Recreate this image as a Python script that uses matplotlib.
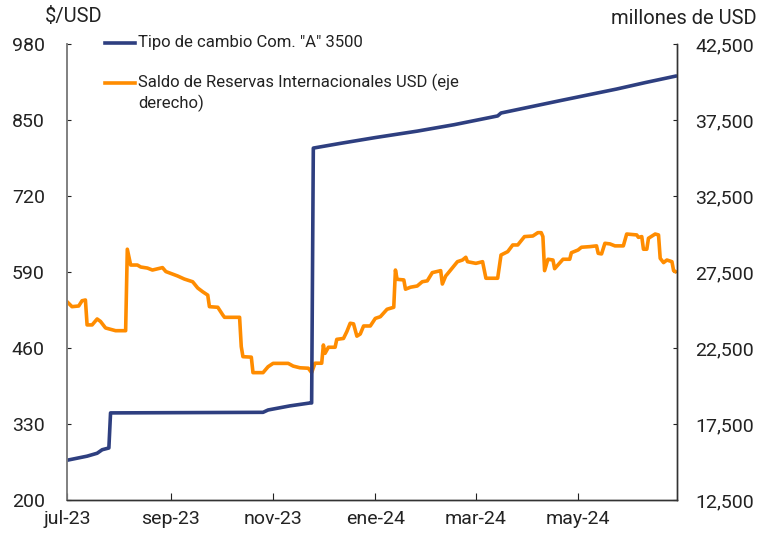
import pandas as pd
import matplotlib.pyplot as plt
from matplotlib.lines import Line2D

plt.rcParams['font.family'] = ['Roboto', 'DejaVu Sans']

# Tipo de cambio Com. "A" 3500 ($/USD, eje izquierdo)
fx_dates = ['2023-07-01', '2023-07-13', '2023-07-19', '2023-07-22', '2023-07-26',
            '2023-07-27', '2023-10-26', '2023-10-29', '2023-11-11', '2023-11-23',
            '2023-11-24', '2023-11-25', '2023-12-11', '2024-01-01', '2024-01-26',
            '2024-02-17', '2024-03-14', '2024-03-16', '2024-04-20', '2024-05-24',
            '2024-06-10', '2024-06-28']
fx_values = [268, 275, 280, 286, 289,
             349, 350, 354, 361, 366,
             366, 802, 810, 820, 831,
             842, 857, 862, 883, 903,
             914, 925]

# Saldo de Reservas Internacionales (millones de USD, eje derecho)
res_dates = ['2023-07-01', '2023-07-04', '2023-07-08', '2023-07-10', '2023-07-12',
             '2023-07-13', '2023-07-16', '2023-07-19', '2023-07-21', '2023-07-24',
             '2023-07-30', '2023-08-05', '2023-08-06', '2023-08-08', '2023-08-12',
             '2023-08-14', '2023-08-18', '2023-08-21', '2023-08-27', '2023-08-29',
             '2023-09-05', '2023-09-09', '2023-09-14', '2023-09-17', '2023-09-20',
             '2023-09-23', '2023-09-24', '2023-09-29', '2023-10-02', '2023-10-03',
             '2023-10-12', '2023-10-13', '2023-10-14', '2023-10-19', '2023-10-20',
             '2023-10-26', '2023-10-29', '2023-11-01', '2023-11-10', '2023-11-13',
             '2023-11-17', '2023-11-22', '2023-11-24', '2023-11-26', '2023-11-30',
             '2023-12-01', '2023-12-02', '2023-12-04', '2023-12-08', '2023-12-09',
             '2023-12-13', '2023-12-15', '2023-12-17', '2023-12-19', '2023-12-21',
             '2023-12-23', '2023-12-25', '2023-12-29', '2024-01-01', '2024-01-04',
             '2024-01-08', '2024-01-12', '2024-01-13', '2024-01-14', '2024-01-18',
             '2024-01-19', '2024-01-22', '2024-01-26', '2024-01-29', '2024-02-01',
             '2024-02-04', '2024-02-09', '2024-02-10', '2024-02-12', '2024-02-13',
             '2024-02-19', '2024-02-22', '2024-02-24', '2024-02-25', '2024-03-01',
             '2024-03-05', '2024-03-07', '2024-03-14', '2024-03-16', '2024-03-20',
             '2024-03-23', '2024-03-26', '2024-03-30', '2024-04-04', '2024-04-07',
             '2024-04-09', '2024-04-10', '2024-04-11', '2024-04-13', '2024-04-16',
             '2024-04-17', '2024-04-22', '2024-04-26', '2024-04-27', '2024-05-01',
             '2024-05-03', '2024-05-08', '2024-05-12', '2024-05-13', '2024-05-15',
             '2024-05-17', '2024-05-20', '2024-05-23', '2024-05-28', '2024-05-30',
             '2024-06-05', '2024-06-06', '2024-06-08', '2024-06-09', '2024-06-11',
             '2024-06-12', '2024-06-16', '2024-06-18', '2024-06-19', '2024-06-21',
             '2024-06-23', '2024-06-26', '2024-06-27', '2024-06-28']
res_values = [25550, 25220, 25265, 25610, 25660,
              24020, 24020, 24410, 24250, 23820,
              23640, 23640, 29000, 27960, 27960,
              27830, 27760, 27630, 27790, 27530,
              27240, 27040, 26860, 26450, 26200,
              25980, 25220, 25180, 24670, 24520,
              24520, 22590, 21930, 21900, 20880,
              20880, 21270, 21490, 21490, 21310,
              21200, 21170, 20880, 21500, 21500,
              22700, 22150, 22550, 22550, 23070,
              23130, 23580, 24130, 24090, 23280,
              23420, 23950, 23950, 24450, 24560,
              25050, 25180, 27630, 27020, 26980,
              26370, 26500, 26580, 26860, 26920,
              27460, 27590, 26710, 27240, 27370,
              28180, 28290, 28470, 28180, 28070,
              28180, 27090, 27090, 28620, 28840,
              29280, 29280, 29830, 29870, 30090,
              30090, 29830, 27590, 28340, 28290,
              27720, 28340, 28340, 28770, 28950,
              29130, 29170, 29220, 28730, 28690,
              29390, 29350, 29220, 29220, 30000,
              29940, 29780, 29830, 29000, 29000,
              29720, 30000, 29940, 28400, 28120,
              28290, 28180, 27590, 27530]

tick_dates = ['2023-07-01', '2023-09-01', '2023-11-01', '2024-01-01', '2024-03-01', '2024-05-01']
tick_labels = ['jul-23', 'sep-23', 'nov-23', 'ene-24', 'mar-24', 'may-24']
left_ticks = [200, 330, 460, 590, 720, 850, 980]
right_ticks = [12500, 17500, 22500, 27500, 32500, 37500, 42500]

blue = '#2E3F80'
orange = '#FF8C00'

fig = plt.figure(figsize=(7.62, 5.35), dpi=100)
ax = fig.add_axes([0.0879, 0.0654, 0.8005, 0.8523])
ax2 = ax.twinx()

ax2.plot(pd.to_datetime(res_dates), res_values, color=orange, lw=2.6, solid_joinstyle='round')
ax.plot(pd.to_datetime(fx_dates), fx_values, color=blue, lw=2.6, solid_joinstyle='round')

# blue line above the orange one
ax.set_zorder(ax2.get_zorder() + 1)
ax.patch.set_visible(False)

ax.set_xlim(pd.Timestamp('2023-07-01'), pd.Timestamp('2024-06-29'))
ax.set_ylim(200, 980)
ax2.set_ylim(12500, 42500)

ax.set_xticks(pd.to_datetime(tick_dates))
ax.set_xticklabels(tick_labels)
ax.set_yticks(left_ticks)
ax2.set_yticks(right_ticks)
ax2.set_yticklabels([f'{v:,}' for v in right_ticks])

ax.tick_params(axis='x', direction='in', length=5, width=0.8, pad=7, labelsize=14, colors='#222222')
ax.tick_params(axis='y', direction='in', length=3, width=0.8, pad=16, labelsize=14, colors='#222222')
ax2.tick_params(axis='y', direction='in', length=3, width=0.8, pad=13, labelsize=14, colors='#222222')

for a in (ax, ax2):
    a.spines['top'].set_visible(False)
    a.spines['left'].set_color('#808080')
    a.spines['bottom'].set_color('#333333')
    a.spines['right'].set_color('#333333')
    a.spines['left'].set_linewidth(1.2)
    a.spines['bottom'].set_linewidth(1.0)
    a.spines['right'].set_linewidth(1.0)

fig.text(45 / 762, 1 - 17 / 535, '$/USD', fontsize=14.5, ha='left', va='center', color='#222222')
fig.text(757 / 762, 1 - 19 / 535, 'millones de USD', fontsize=14.5, ha='right', va='center', color='#222222')

# legend drawn by hand, handle at the first line of each label
fig.add_artist(Line2D([105 / 762, 135 / 762], [1 - 43 / 535] * 2, color=blue, lw=2.6))
fig.text(138 / 762, 1 - 43 / 535, 'Tipo de cambio Com. "A" 3500', fontsize=12, ha='left', va='center', color='#222222')
fig.add_artist(Line2D([105 / 762, 135 / 762], [1 - 83 / 535] * 2, color=orange, lw=2.6))
fig.text(138 / 762, 1 - 93 / 535, 'Saldo de Reservas Internacionales USD (eje\nderecho)', fontsize=12,
         ha='left', va='center', linespacing=1.25, color='#222222')

fig.savefig('out.png', dpi=100)
